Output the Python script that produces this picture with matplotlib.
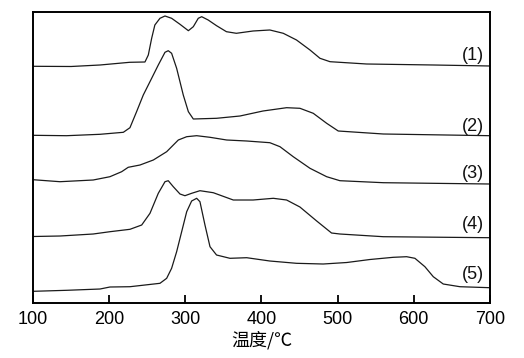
import matplotlib
matplotlib.use("Agg")
import matplotlib.pyplot as plt

# Temperatures (°C) and stacked signal values (arbitrary units)
t1 = [100, 150, 188, 227, 247, 251.4, 255.8, 260, 266.7, 273.3, 282, 293, 304, 310.5, 317, 321.5, 330, 341, 354, 367, 389, 411, 428.6, 446, 463.7, 476.8, 490, 538, 626, 700]
y1 = [236.7, 236.5, 238, 240.7, 241, 248, 264.7, 278, 284.7, 287, 284.7, 278.7, 272.3, 276.3, 284.7, 286.3, 283, 277.3, 271.3, 269.7, 272, 273, 269.7, 263, 253, 244.7, 241.3, 239, 238, 237]

t2 = [100, 144, 188, 218.6, 227.3, 236, 244.8, 255.8, 264.5, 273.3, 277.6, 282, 288.6, 297.3, 304, 310.5, 341, 371.8, 402, 433, 450.5, 468, 485.6, 500.8, 560, 700]
y2 = [167.7, 167.3, 168.7, 170.7, 175.3, 191.3, 208, 224.7, 238, 250.7, 252.3, 249.7, 234.7, 208, 191.3, 184, 184.7, 187, 192, 195.3, 194.7, 189.7, 179.7, 172, 169, 167.3]

t3 = [100, 135.4, 179, 201, 216.4, 225, 240.5, 258, 275.5, 290.8, 301.8, 314.9, 332.4, 354.3, 380.6, 411, 424.3, 441.7, 463.7, 485.6, 503, 560, 700]
y3 = [123.3, 121.3, 123, 126.3, 131.3, 135.7, 138, 143, 151.3, 163, 166.3, 167.3, 165.7, 163, 162, 160.3, 156.3, 146.3, 134.7, 126.3, 122.3, 120.3, 119]

t4 = [100, 135.4, 179, 201, 227.3, 242.7, 253.6, 264.5, 273.3, 277.6, 284.2, 293, 299.5, 308.3, 319.2, 336.7, 363, 389, 415.5, 433, 450.5, 472.5, 492, 503, 560, 700]
y4 = [66.5, 67, 69, 71.3, 73.7, 78, 89.7, 109.7, 121.3, 122.3, 116.3, 109, 107.3, 109.7, 112.3, 110.3, 103, 103, 104.7, 103, 96, 82, 70, 69, 66.3, 65.3]

t5 = [100, 144, 188, 201, 227.3, 266.7, 275.5, 282, 288.6, 295.2, 301.8, 308.3, 314.9, 319.2, 325.8, 332.4, 341, 358.6, 380.6, 411, 446, 481, 512, 542.4, 573, 590.6, 601.5, 614.6, 625.6, 638.7, 660.6, 700]
y5 = [11.7, 12.7, 14, 16, 16.3, 19.7, 24.7, 34.7, 51.3, 71.3, 91.3, 102, 104.7, 101.3, 78, 56.3, 48, 44.7, 45.3, 42, 39.7, 39, 40.5, 43.5, 45.7, 46.3, 44.7, 36.3, 26.3, 19, 16.3, 15.3]

labels = ["(1)", "(2)", "(3)", "(4)", "(5)"]
label_y = [247, 177, 130, 79, 29]
xticks = [100, 200, 300, 400, 500, 600, 700]
xlabel = "温度/℃"

plt.rcParams['font.family'] = ['Liberation Sans', 'DejaVu Sans']

fig = plt.figure(figsize=(5.24, 3.58), dpi=100)
ax = fig.add_axes([0.063, 0.1536, 0.872, 0.8129])

for t, y in zip([t1, t2, t3, t4, t5], [y1, y2, y3, y4, y5]):
    ax.plot(t, y, color='#1a1a1a', lw=0.9, solid_joinstyle='round')

for lab, ly in zip(labels, label_y):
    ax.text(692, ly, lab, ha='right', va='center', fontsize=13, color='#111111')

ax.set_xlim(100, 700)
ax.set_ylim(0, 291)
ax.set_xticks(xticks)
ax.set_xticklabels([str(v) for v in xticks], fontsize=13)
ax.set_yticks([])
ax.tick_params(axis='x', direction='in', length=6, width=1.3, pad=6)
for s in ax.spines.values():
    s.set_linewidth(1.4)
ax.set_xlabel(xlabel, fontsize=13, family=['Noto Sans CJK SC', 'DejaVu Sans'], labelpad=2)

fig.savefig("out.png", dpi=100)
